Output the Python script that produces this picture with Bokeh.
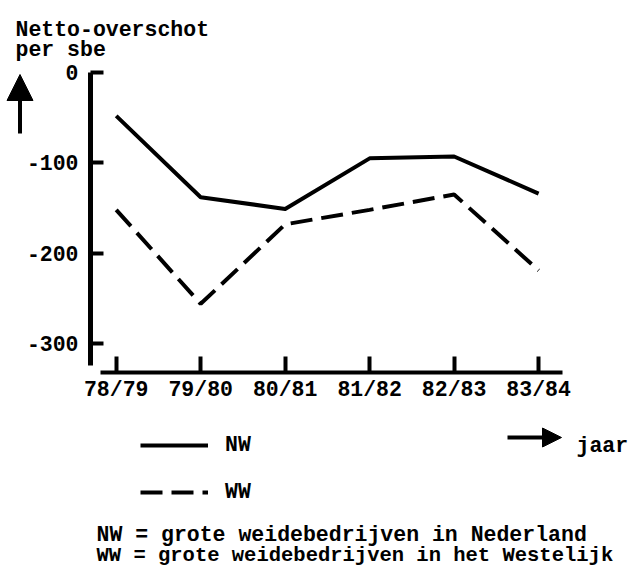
from bokeh.plotting import figure
from bokeh.models import Range1d, FixedTicker, Label, Legend, LegendItem, Arrow, NormalHead
from bokeh.embed import file_html
from bokeh.resources import INLINE

# ---- data ----
categories = ["78/79", "79/80", "80/81", "81/82", "82/83", "83/84"]
nw_values = [-48, -138, -151, -95, -93, -134]
ww_values = [-152, -256, -168, -152, -135, -219]
y_ticks = [0, -100, -200, -300]
y_tick_labels = ["0", "-100", "-200", "-300"]
series_names = ["NW", "WW"]
y_title = ["Netto-overschot", "per sbe"]
x_title = "jaar"
footnotes = ["NW = grote weidebedrijven in Nederland",
             "WW = grote weidebedrijven in het Westelijk"]

FONT = "Liberation Mono"
FS = "21.5px"
W, H = 629, 566

x_idx = list(range(len(categories)))

# scale: canvas pixel positions of the value origins and pixels per unit
X0_PX, PX_PER_X = 115.7, 84.48     # category index 0 at x=115.7 px
Y0_PX, PX_PER_Y = 72.0, 300 / 332  # value 0 at y=72 px


def xd(px):
    return (px - X0_PX) / PX_PER_X


def yd(py):
    return (Y0_PX - py) / PX_PER_Y


p = figure(width=W, height=H,
           x_range=Range1d(xd(0), xd(W)), y_range=Range1d(yd(H), yd(0)),
           output_backend="svg", toolbar_location=None, min_border=0)
p.min_border_left = p.min_border_right = p.min_border_top = p.min_border_bottom = 0
p.outline_line_color = None
p.grid.visible = False
p.background_fill_color = "white"
p.border_fill_color = "white"

for ax in (p.xaxis[0], p.yaxis[0]):
    ax.axis_line_color = "black"
    ax.major_tick_line_color = "black"
    ax.major_tick_line_width = 4
    ax.major_tick_out = 0
    ax.minor_tick_in = 0
    ax.minor_tick_out = 0
    ax.major_label_text_font = FONT
    ax.major_label_text_font_size = FS
    ax.major_label_text_font_style = "bold"
    ax.major_label_text_color = "black"

yax = p.yaxis[0]
yax.fixed_location = xd(90)
yax.bounds = (yd(365), 0)
yax.ticker = FixedTicker(ticks=y_ticks)
yax.major_label_overrides = dict(zip(y_ticks, y_tick_labels))
yax.axis_line_width = 5
yax.major_tick_in = 13
yax.major_label_standoff = 12

xax = p.xaxis[0]
xax.fixed_location = yd(372)
xax.bounds = (xd(100), xd(562))
xax.ticker = FixedTicker(ticks=x_idx)
xax.major_label_overrides = dict(zip(x_idx, categories))
xax.axis_line_width = 4
xax.major_tick_in = 16
xax.major_label_standoff = 5

r_nw = p.line(x_idx, nw_values, line_width=4, line_color="black", line_join="round")
r_ww = p.line(x_idx, ww_values, line_width=4, line_color="black", line_dash="22 9")

legend = Legend(items=[LegendItem(label=series_names[0], renderers=[r_nw]),
                       LegendItem(label=series_names[1], renderers=[r_ww])],
                location=(140, H - 505),
                glyph_width=68, glyph_height=26, label_height=26, spacing=21,
                label_standoff=17, padding=0, margin=0,
                border_line_color=None, background_fill_alpha=0,
                label_text_font=FONT, label_text_font_size=FS,
                label_text_font_style="bold", label_text_color="black")
p.add_layout(legend, "center")

lab_kw = dict(text_font=FONT, text_font_size=FS, text_font_style="bold",
              text_color="black", text_baseline="alphabetic", text_align="left")
p.add_layout(Label(x=xd(15), y=yd(29), text=y_title[0], **lab_kw))
p.add_layout(Label(x=xd(15), y=yd(49), text=y_title[1], **lab_kw))
p.add_layout(Label(x=xd(576), y=yd(445), text=x_title, **lab_kw))
p.add_layout(Label(x=xd(96), y=yd(534), text=footnotes[0], **lab_kw))
p.add_layout(Label(x=xd(96), y=yd(555), text=footnotes[1],
                   **{**lab_kw, "text_font_size": "20.5px"}))

# arrows: value axis (up) and time axis (right)
p.add_layout(Arrow(end=NormalHead(size=26, fill_color="black", line_color="black", line_width=1),
                   x_start=xd(19.5), y_start=yd(133), x_end=xd(19.5), y_end=yd(74),
                   line_width=4, line_color="black"))
p.add_layout(Arrow(end=NormalHead(size=19, fill_color="black", line_color="black", line_width=1),
                   x_start=xd(507), y_start=yd(437), x_end=xd(561), y_end=yd(437),
                   line_width=4, line_color="black"))

open("out.html", "w").write(file_html(p, INLINE))
